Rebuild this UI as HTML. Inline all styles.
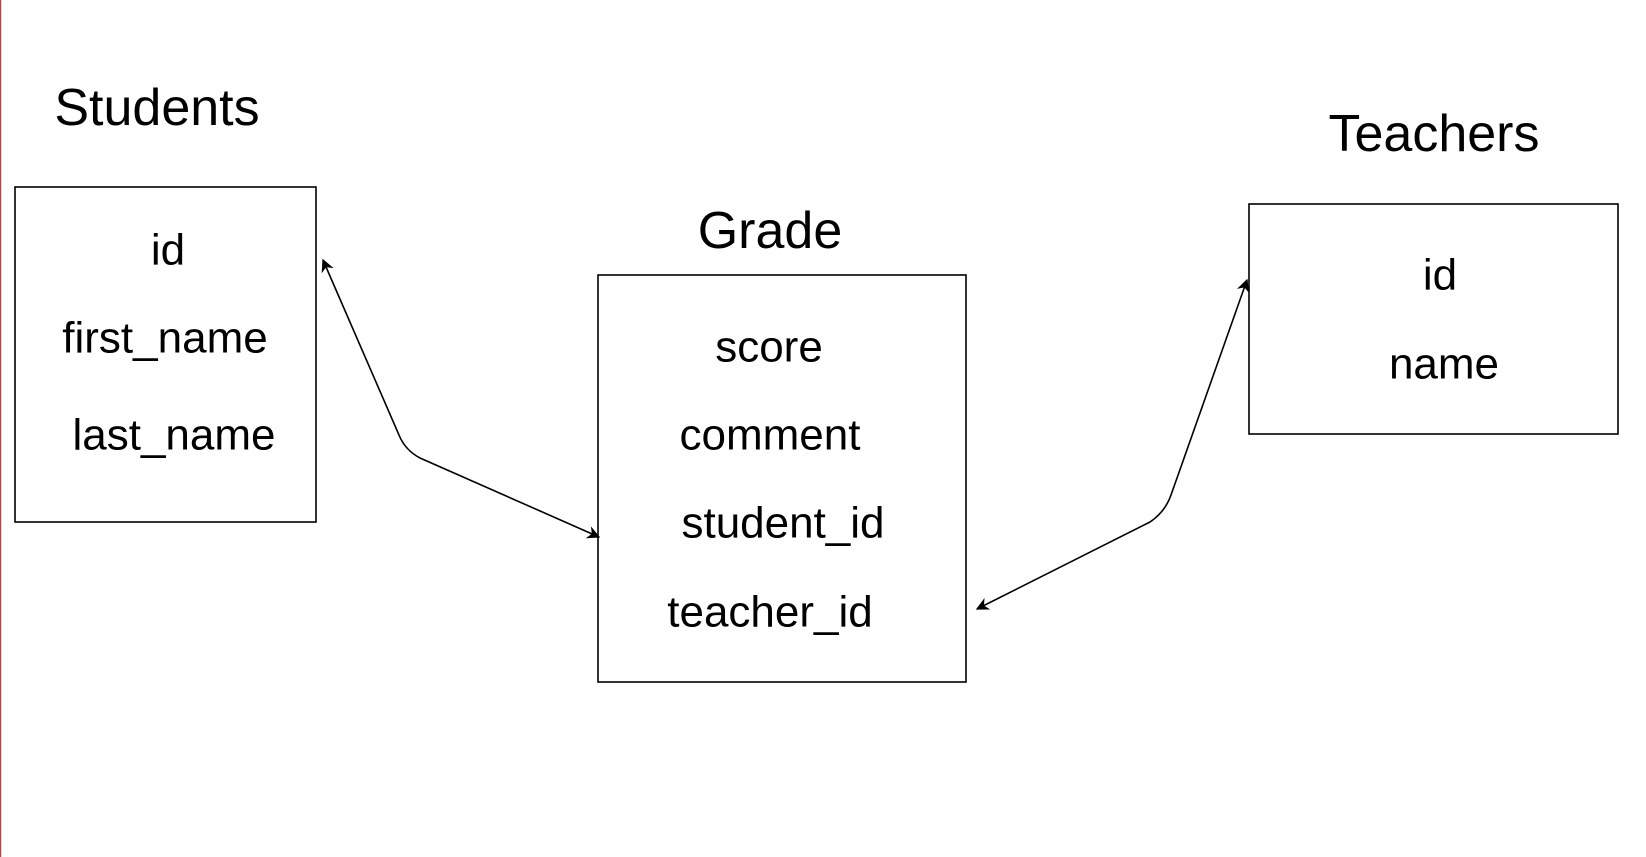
<!DOCTYPE html>
<html><head><style>html,body{margin:0;padding:0;background:#fff;width:1646px;height:857px;overflow:hidden}</style></head>
<body>
<svg width="1646" height="857" xmlns="http://www.w3.org/2000/svg" font-family="Liberation Sans, Arial, sans-serif">
<defs><marker id="a" viewBox="0 0 10 10" refX="9" refY="5" markerWidth="13" markerHeight="13" markerUnits="userSpaceOnUse" orient="auto-start-reverse"><path d="M0,0 L10,5 L0,10 L3,5 z" fill="#000"/></marker></defs>
<line x1="0.5" y1="0" x2="0.5" y2="857" stroke="#b44" stroke-width="1.5"/>
<g fill="none" stroke="#000" stroke-width="1.6">
<rect x="15" y="187" width="301" height="335"/>
<rect x="598" y="275" width="368" height="407"/>
<rect x="1249" y="204" width="369" height="230"/>
<path d="M323,260 L399,435 Q405,450 420,458 L599,537" marker-start="url(#a)" marker-end="url(#a)"/>
<path d="M977,609 L1150,522 Q1165,512 1171,495 L1247,280" marker-start="url(#a)" marker-end="url(#a)"/>
</g>
<g fill="#000" text-anchor="middle" dominant-baseline="central">
<text x="157" y="108" font-size="52">Students</text>
<text x="770" y="231" font-size="52">Grade</text>
<text x="1434" y="134" font-size="52">Teachers</text>
<g font-size="44">
<text x="168" y="250">id</text>
<text x="165" y="338">first_name</text>
<text x="174" y="435">last_name</text>
<text x="769" y="347">score</text>
<text x="770" y="435">comment</text>
<text x="783" y="523">student_id</text>
<text x="770" y="612">teacher_id</text>
<text x="1440" y="275">id</text>
<text x="1444" y="364">name</text>
</g></g>
</svg>
</body></html>
